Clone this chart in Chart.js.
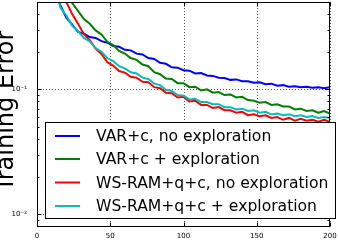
<!DOCTYPE html>
<html>
<head>
<meta charset="utf-8">
<script src="https://cdn.jsdelivr.net/npm/chart.js@4.4.1/dist/chart.umd.min.js"></script>
<style>
  html, body { margin: 0; padding: 0; background: #fff; }
  #wrap { position: relative; width: 338px; height: 240px; }
</style>
</head>
<body>
<div id="wrap"><canvas id="errChart"></canvas></div>
<script>
// ========================
// DATA
// ========================
const epochs = [0, 4, 8, 12, 16, 20, 24, 28, 32, 36, 40, 44, 48, 52, 56, 60, 64, 68, 72, 76,
  80, 84, 88, 92, 96, 100, 104, 108, 112, 116, 120, 124, 128, 132, 136, 140, 144, 148, 152, 156,
  160, 164, 168, 172, 176, 180, 184, 188, 192, 196, 200];

const varNoExp = [1.5, 1.1, 0.82, 0.6, 0.47, 0.375, 0.33, 0.288, 0.279, 0.262, 0.258, 0.243, 0.236, 0.222, 0.219, 0.207, 0.205, 0.193, 0.19, 0.178,
  0.175, 0.163, 0.16, 0.15, 0.149, 0.142, 0.141, 0.134, 0.135, 0.129, 0.128, 0.124, 0.123, 0.119, 0.12, 0.116, 0.116, 0.113, 0.114, 0.11,
  0.111, 0.107, 0.108, 0.105, 0.106, 0.104, 0.105, 0.103, 0.104, 0.102, 0.104];

const varExp = [3.0, 2.3, 1.7, 1.25, 0.9, 0.63, 0.49, 0.425, 0.365, 0.335, 0.296, 0.275, 0.24, 0.226, 0.203, 0.193, 0.178, 0.172, 0.158, 0.153,
  0.137, 0.132, 0.122, 0.121, 0.112, 0.112, 0.104, 0.105, 0.098, 0.1, 0.094, 0.095, 0.09, 0.091, 0.086, 0.087, 0.082, 0.081, 0.078, 0.079,
  0.075, 0.076, 0.073, 0.073, 0.069, 0.07, 0.067, 0.068, 0.065, 0.067, 0.064];

const wsNoExp = [4.0, 2.8, 1.9, 1.2, 0.75, 0.5, 0.4, 0.335, 0.276, 0.248, 0.212, 0.192, 0.165, 0.155, 0.14, 0.136, 0.126, 0.124, 0.115, 0.114,
  0.104, 0.102, 0.094, 0.093, 0.086, 0.087, 0.08, 0.081, 0.075, 0.075, 0.071, 0.072, 0.068, 0.068, 0.065, 0.066, 0.062, 0.063, 0.061, 0.062,
  0.059, 0.06, 0.057, 0.059, 0.056, 0.058, 0.056, 0.057, 0.055, 0.057, 0.055];

const wsExp = [2.0, 1.5, 1.05, 0.7, 0.45, 0.39, 0.322, 0.293, 0.258, 0.242, 0.214, 0.2, 0.178, 0.168, 0.153, 0.147, 0.137, 0.134, 0.124, 0.121,
  0.111, 0.108, 0.099, 0.097, 0.09, 0.089, 0.083, 0.084, 0.079, 0.079, 0.076, 0.076, 0.072, 0.072, 0.069, 0.07, 0.067, 0.068, 0.065, 0.066,
  0.063, 0.064, 0.062, 0.063, 0.061, 0.062, 0.06, 0.061, 0.059, 0.06, 0.059];

const seriesLabels = ["VAR+c, no exploration", "VAR+c + exploration", "WS-RAM+q+c, no exploration", "WS-RAM+q+c + exploration"];
const seriesColors = ["#0000ff", "#008000", "#ff0000", "#00bfbf"];

const xTicks = [0, 50, 100, 150, 200];
const yMajor = [0.01, 0.1];
const yMinor = [0.008, 0.009, 0.02, 0.03, 0.04, 0.05, 0.06, 0.07, 0.08, 0.09, 0.2, 0.3, 0.4];
const yTickText = { "0.01": "10\u207b\u00b2", "0.1": "10\u207b\u00b9" };
const yTitle = "Training Error";

const FONT = "'DejaVu Sans', sans-serif";

// ========================
// HELPER
// ========================
function toPoints(ys) {
  return ys.map((y, i) => ({ x: epochs[i], y: y }));
}

// dotted grid, frame, inward ticks, legend box and axis title (matplotlib look)
const mplDecor = {
  id: "mplDecor",
  beforeDatasetsDraw(chart) {
    const { ctx, chartArea: a, scales: { x, y } } = chart;
    ctx.save();
    ctx.strokeStyle = "#555";
    ctx.lineWidth = 1;
    ctx.setLineDash([1, 2]);
    xTicks.forEach(v => {
      const px = Math.round(x.getPixelForValue(v)) + 0.5;
      ctx.beginPath(); ctx.moveTo(px, a.top); ctx.lineTo(px, a.bottom); ctx.stroke();
    });
    yMajor.forEach(v => {
      const py = Math.round(y.getPixelForValue(v)) + 0.5;
      ctx.beginPath(); ctx.moveTo(a.left, py); ctx.lineTo(a.right, py); ctx.stroke();
    });
    ctx.restore();
  },
  afterDatasetsDraw(chart) {
    const { ctx, chartArea: a, scales: { x, y } } = chart;
    ctx.save();
    ctx.strokeStyle = "#000";
    ctx.lineWidth = 1;
    ctx.setLineDash([]);
    const L = Math.round(a.left) + 0.5, R = Math.round(a.right) - 0.5;
    const T = Math.round(a.top) + 0.5, B = Math.round(a.bottom) - 0.5;
    ctx.strokeRect(L, T, R - L, B - T);

    ctx.beginPath();
    xTicks.forEach(v => {
      const px = Math.round(x.getPixelForValue(v)) + 0.5;
      ctx.moveTo(px, B); ctx.lineTo(px, B - 4);
      ctx.moveTo(px, T); ctx.lineTo(px, T + 4);
    });
    yMajor.forEach(v => {
      const py = Math.round(y.getPixelForValue(v)) + 0.5;
      ctx.moveTo(L, py); ctx.lineTo(L + 4, py);
      ctx.moveTo(R, py); ctx.lineTo(R - 4, py);
    });
    yMinor.forEach(v => {
      const py = Math.round(y.getPixelForValue(v)) + 0.5;
      ctx.moveTo(L, py); ctx.lineTo(L + 2, py);
      ctx.moveTo(R, py); ctx.lineTo(R - 2, py);
    });
    ctx.stroke();

    // legend box
    const bx = 45.5, by = 122.5, bw = 290, bh = 96;
    ctx.fillStyle = "#fff";
    ctx.fillRect(bx, by, bw, bh);
    ctx.strokeRect(bx, by, bw, bh);
    const rows = [136, 159, 182.5, 206];
    ctx.font = "15.6px " + FONT;
    ctx.textBaseline = "middle";
    ctx.textAlign = "left";
    seriesLabels.forEach((lab, i) => {
      ctx.strokeStyle = seriesColors[i];
      ctx.lineWidth = 2;
      ctx.beginPath(); ctx.moveTo(55, rows[i]); ctx.lineTo(80, rows[i]); ctx.stroke();
      ctx.fillStyle = "#000";
      ctx.fillText(lab, 96, rows[i] + 1);
    });

    // y title
    ctx.translate(13, 111);
    ctx.rotate(-Math.PI / 2);
    ctx.font = "24px " + FONT;
    ctx.textAlign = "center";
    ctx.textBaseline = "alphabetic";
    ctx.fillStyle = "#000";
    ctx.fillText(yTitle, 0, 0);
    ctx.restore();
  }
};

// ========================
// RENDER CHART
// ========================
const datasetsData = [varNoExp, varExp, wsNoExp, wsExp];

new Chart(document.getElementById("errChart"), {
  type: "line",
  data: {
    datasets: datasetsData.map((ys, i) => ({
      label: seriesLabels[i],
      data: toPoints(ys),
      borderColor: seriesColors[i],
      backgroundColor: seriesColors[i],
      borderWidth: 2,
      pointRadius: 0,
      tension: 0,
      order: 4 - i
    }))
  },
  options: {
    responsive: true,
    maintainAspectRatio: false,
    animation: false,
    devicePixelRatio: 1,
    layout: { padding: { top: 2, right: 8, left: 0, bottom: 0 } },
    plugins: { legend: { display: false }, tooltip: { enabled: false } },
    scales: {
      x: {
        type: "linear",
        min: 0,
        max: 200,
        afterBuildTicks: s => { s.ticks = xTicks.map(v => ({ value: v })); },
        afterFit: s => { s.height = 13; s.paddingLeft = 0; s.paddingRight = 0; },
        grid: { display: false },
        border: { display: false },
        ticks: { color: "#000", font: { family: FONT, size: 7 }, padding: -3, maxRotation: 0 }
      },
      y: {
        type: "logarithmic",
        min: 0.0079,
        max: 0.5,
        afterBuildTicks: s => { s.ticks = yMajor.map(v => ({ value: v })); },
        afterFit: s => { s.width = 37; s.paddingTop = 0; s.paddingBottom = 0; },
        grid: { display: false },
        border: { display: false },
        ticks: {
          color: "#000",
          font: { family: FONT, size: 7 },
          padding: 2,
          callback: v => yTickText[String(v)] || ""
        }
      }
    }
  },
  plugins: [mplDecor]
});
</script>
</body>
</html>
